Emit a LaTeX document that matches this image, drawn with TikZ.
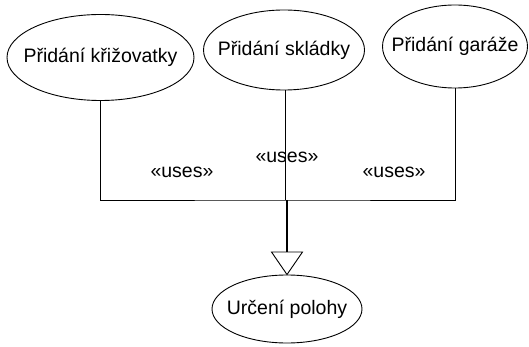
\documentclass[tikz,border=0pt]{standalone}
\usepackage{fontspec}
\setmainfont{Liberation Sans}
\usetikzlibrary{shapes.geometric}
\begin{document}
\begin{tikzpicture}[x=1pt,y=-1pt,
  usecase/.style={draw, ellipse, inner sep=0pt, line width=0.9pt},
  uctext/.style={inner sep=0pt, font=\fontsize{19.5}{22}\selectfont},
  link/.style={line width=0.9pt},
  genlink/.style={line width=1.8pt},
  stereo/.style={font=\fontsize{19.5}{22}\selectfont, inner sep=0pt}]
  \useasboundingbox (0,0) rectangle (529,347);

  % use-case outlines
  \node[usecase, minimum width=187pt, minimum height=86pt] (u1) at (100.5,57.5) {};
  \node[usecase, minimum width=161pt, minimum height=80pt] (u2) at (284,50) {};
  \node[usecase, minimum width=145pt, minimum height=83pt] (u3) at (455,46.5) {};
  \node[usecase, minimum width=150pt, minimum height=68pt] (u4) at (287,309) {};

  % use-case names
  \node[uctext] (t1) at (u1) {Přidání křižovatky};
  \node[uctext] (t2) at (u2) {Přidání skládky};
  \node[uctext] (t3) at (u3) {Přidání garáže};
  \node[uctext] (t4) at (u4) {Určení polohy};

  % junction points of the include lines
  \coordinate (j1) at (100,200);
  \coordinate (j2) at (285.5,200);
  \coordinate (j3) at (455,200);
  \coordinate (jc) at (287,200);
  \coordinate (tri) at (287,252);

  \draw[link] (j1 |- u1.south) -- (j1) -- (jc) -- (j3) -- (u3.south);
  \draw[link] (j2 |- u2.south) -- (j2);
  \draw[genlink] (jc) -- (tri);
  \draw[link, fill=white] (271.5,252) -- (302.5,252) -- (u4.north) -- cycle;

  % stereotype labels
  \node[stereo] (s1) at (182,172) {«uses»};
  \node[stereo] (s2) at (287,157) {«uses»};
  \node[stereo] (s3) at (394,172) {«uses»};
\end{tikzpicture}
\end{document}
